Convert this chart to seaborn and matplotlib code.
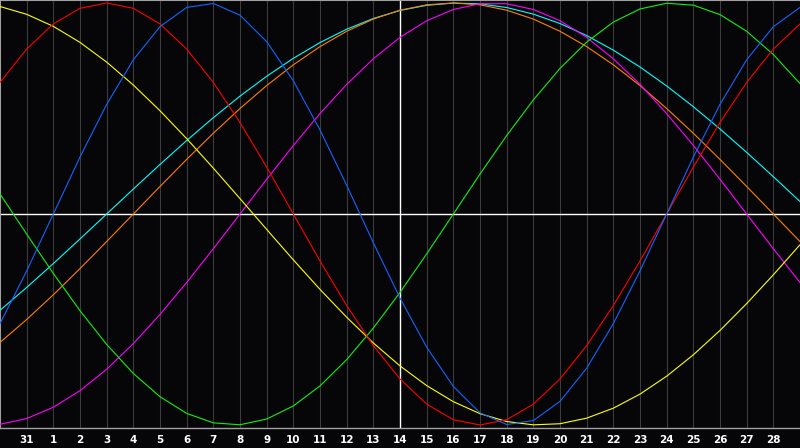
import matplotlib
matplotlib.use("Agg")
import matplotlib.pyplot as plt
import pandas as pd
import seaborn as sns

# day positions 0..30 (Jan 30 .. Mar 1); labels shown for positions 1..29
day_pos = list(range(31))
tick_pos = list(range(1, 30))
tick_labels = ["31", "1", "2", "3", "4", "5", "6", "7", "8", "9", "10", "11", "12", "13",
               "14", "15", "16", "17", "18", "19", "20", "21", "22", "23", "24", "25",
               "26", "27", "28"]
today_pos = 15

physical = [-0.5196, -0.2698, 0.0, 0.2698, 0.5196, 0.7308, 0.8879, 0.9791, 0.9977, 0.9423,
            0.8170, 0.6311, 0.3984, 0.1362, -0.1362, -0.3984, -0.6311, -0.8170, -0.9423,
            -0.9977, -0.9791, -0.8879, -0.7308, -0.5196, -0.2698, 0.0, 0.2698, 0.5196,
            0.7308, 0.8879, 0.9791]
emotional = [0.6235, 0.7818, 0.9010, 0.9749, 1.0, 0.9749, 0.9010, 0.7818, 0.6235, 0.4339,
             0.2225, 0.0, -0.2225, -0.4339, -0.6235, -0.7818, -0.9010, -0.9749, -1.0,
             -0.9749, -0.9010, -0.7818, -0.6235, -0.4339, -0.2225, 0.0, 0.2225, 0.4339,
             0.6235, 0.7818, 0.9010]
intellectual = [0.0951, -0.0951, -0.2817, -0.4582, -0.6182, -0.7557, -0.8660, -0.9450,
                -0.9898, -0.9989, -0.9718, -0.9096, -0.8146, -0.6901, -0.5406, -0.3717,
                -0.1893, 0.0, 0.1893, 0.3717, 0.5406, 0.6901, 0.8146, 0.9096, 0.9718,
                0.9989, 0.9898, 0.9450, 0.8660, 0.7557, 0.6182]
intuitive = [-0.9966, -0.9694, -0.9158, -0.8372, -0.7357, -0.6142, -0.4760, -0.3247,
             -0.1646, 0.0, 0.1646, 0.3247, 0.4760, 0.6142, 0.7357, 0.8372, 0.9158, 0.9694,
             0.9966, 0.9966, 0.9694, 0.9158, 0.8372, 0.7357, 0.6142, 0.4760, 0.3247,
             0.1646, 0.0, -0.1646, -0.3247]
aesthetic = [0.9834, 0.9464, 0.8894, 0.8133, 0.7199, 0.6112, 0.4894, 0.3572, 0.2174,
             0.0730, -0.0730, -0.2174, -0.3572, -0.4894, -0.6112, -0.7199, -0.8133,
             -0.8894, -0.9464, -0.9834, -0.9993, -0.9940, -0.9675, -0.9203, -0.8536,
             -0.7687, -0.6673, -0.5518, -0.4245, -0.2881, -0.1456]
awareness = [-0.6088, -0.5, -0.3827, -0.2588, -0.1305, 0.0, 0.1305, 0.2588, 0.3827, 0.5,
             0.6088, 0.7071, 0.7934, 0.8660, 0.9239, 0.9659, 0.9914, 1.0, 0.9914, 0.9659,
             0.9239, 0.8660, 0.7934, 0.7071, 0.6088, 0.5, 0.3827, 0.2588, 0.1305, 0.0,
             -0.1305]
spiritual = [-0.4566, -0.3482, -0.2349, -0.1183, 0.0, 0.1183, 0.2349, 0.3482, 0.4566,
             0.5586, 0.6528, 0.7378, 0.8125, 0.8757, 0.9267, 0.9646, 0.9890, 0.9996,
             0.9961, 0.9786, 0.9473, 0.9028, 0.8456, 0.7765, 0.6966, 0.6068, 0.5085,
             0.4031, 0.2921, 0.1769, 0.0592]

series = {
    "Spiritual": spiritual,
    "Awareness": awareness,
    "Intuitive": intuitive,
    "Aesthetic": aesthetic,
    "Intellectual": intellectual,
    "Emotional": emotional,
    "Physical": physical,
}
colors = {
    "Spiritual": "#00ffff",
    "Awareness": "#ff8000",
    "Intuitive": "#ff00ff",
    "Aesthetic": "#ffff00",
    "Intellectual": "#10f010",
    "Emotional": "#ff0000",
    "Physical": "#1464ff",
}

rows = []
for name, vals in series.items():
    for d, v in zip(day_pos, vals):
        rows.append({"day": d, "value": v, "cycle": name})
df = pd.DataFrame(rows)

bg = "#060609"
sns.set_style("dark")
plt.rcParams["font.family"] = ["DejaVu Sans"]

fig = plt.figure(figsize=(8, 4.48), dpi=100, facecolor=bg)
ax = fig.add_axes([0, 20 / 448, 1, 428 / 448])
ax.set_facecolor(bg)

# day grid
for p in tick_pos:
    if p != today_pos:
        ax.axvline(p, color="#3c3c3c", lw=0.8, zorder=1)
ax.axhline(0, color="white", lw=1.0, zorder=2)
ax.axvline(today_pos, color="white", lw=1.0, zorder=2)

sns.lineplot(data=df, x="day", y="value", hue="cycle", hue_order=list(series.keys()),
             palette=colors, estimator=None, sort=False, lw=0.8, legend=False, ax=ax,
             zorder=3)

ax.set_xlim(0, 30)
amp = 211.0
ax.set_ylim(-214 / amp, 214 / amp)
ax.set_xticks(tick_pos)
ax.set_xticklabels(tick_labels)
ax.set_yticks([])
ax.set_xlabel("")
ax.set_ylabel("")
ax.grid(False)
ax.tick_params(axis="x", length=0, pad=5, labelcolor="white", labelsize=7.5)
for lab in ax.get_xticklabels():
    lab.set_fontweight("bold")

for side in ["left", "top"]:
    ax.spines[side].set_visible(True)
    ax.spines[side].set_color("#a0a0a0")
    ax.spines[side].set_linewidth(1.5)
ax.spines["bottom"].set_visible(True)
ax.spines["bottom"].set_color("#a0a0a0")
ax.spines["bottom"].set_linewidth(1.0)
ax.spines["right"].set_visible(False)

fig.savefig("out.png", dpi=100, facecolor=bg)
